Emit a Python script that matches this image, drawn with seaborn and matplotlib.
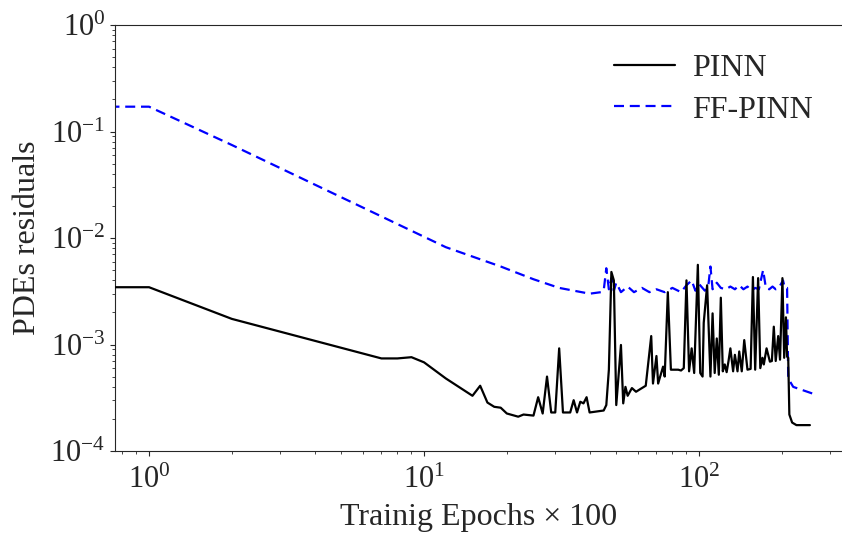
import numpy as np
import pandas as pd
import matplotlib
matplotlib.use('Agg')
import matplotlib.pyplot as plt
import seaborn as sns

# epochs (x100) and residuals
pinn_epochs = [0, 1, 2, 7, 8, 9, 10, 12, 15, 16, 17, 18, 19, 20, 22, 23, 25, 26, 27, 28,
               29, 30, 31, 32, 34, 35, 36, 37, 38, 39, 40, 45, 46, 47, 48, 49, 50, 52, 53, 54,
               55, 57, 59, 61, 64, 67, 68, 70, 71, 74, 75, 77, 79, 84, 86, 88, 90, 92, 94, 96, 99,
               101, 103, 104, 107, 110, 112, 114, 116, 118, 120, 122, 124, 126, 128, 130, 133, 135, 138, 140, 143,
               146, 150, 154, 157, 160, 164, 167, 170, 172, 176, 181, 184, 187, 190, 194, 197, 201,
               204, 207, 209, 211, 213, 218, 226, 253]
pinn_resid = [3.45e-3, 3.45e-3, 1.74e-3, 7.4e-4, 7.4e-4, 7.6e-4, 6.8e-4, 4.8e-4, 3.3e-4, 4.1e-4,
              2.85e-4, 2.6e-4, 2.55e-4, 2.25e-4, 2.1e-4, 2.2e-4, 2.15e-4, 3.2e-4, 2.25e-4, 5.0e-4,
              2.3e-4, 2.3e-4, 9.2e-4, 2.3e-4, 2.3e-4, 3.0e-4, 2.3e-4, 2.9e-4, 2.8e-4, 3.2e-4,
              2.3e-4, 2.4e-4, 2.7e-4, 5.8e-4, 4.8e-3, 4.0e-3, 2.7e-4, 9.9e-4, 2.8e-4, 4.0e-4,
              3.3e-4, 3.9e-4, 3.6e-4, 3.8e-4, 4.1e-4, 1.2e-3, 4.3e-4, 7.8e-4, 4.3e-4, 6.2e-4,
              5.0e-4, 3.1e-3, 5.8e-4, 5.8e-4, 5.7e-4, 6.0e-4, 4.0e-3, 5.6e-4, 9.2e-4, 5.4e-4, 5.6e-3,
              5.4e-4, 5.0e-4, 1.6e-3, 3.6e-3, 5.0e-4, 1.96e-3, 5.4e-4, 1.14e-3, 5.2e-4, 2.75e-3,
              5.6e-4, 6.5e-4, 5.5e-4, 7.0e-4, 9.2e-4, 5.6e-4, 8.0e-4, 5.6e-4, 8.6e-4, 5.6e-4,
              1.1e-3, 5.8e-4, 5.9e-4, 4.3e-3, 5.8e-4, 4.2e-3, 6.0e-4, 7.5e-4, 6.5e-4, 9.2e-4, 6.9e-4,
              7.0e-4, 1.47e-3, 7.0e-4, 1.2e-3, 7.2e-4, 4.2e-3, 7.5e-4, 1.8e-3, 7.7e-4, 7.5e-4,
              2.2e-4, 1.85e-4, 1.75e-4, 1.75e-4]

ff_epochs = [0, 1, 2, 12, 19, 25, 31, 40, 44, 45, 46, 47, 48, 49, 50, 52, 55, 58, 62, 66,
             70, 75, 80, 86, 90, 94, 97, 100, 105, 108, 110, 112, 116, 120, 125, 130, 135, 140,
             145, 150, 155, 160, 165, 171, 175, 180, 185, 190, 195, 202, 205, 209, 211, 220, 264]
ff_resid = [0.171, 0.171, 0.0747, 8.2e-3, 5.4e-3, 4.1e-3, 3.4e-3, 3.0e-3, 3.1e-3, 3.2e-3,
            5.2e-3, 3.3e-3, 4.2e-3, 3.2e-3, 3.8e-3, 3.1e-3, 3.5e-3, 3.1e-3, 3.4e-3, 3.1e-3,
            3.3e-3, 3.1e-3, 3.4e-3, 3.1e-3, 3.6e-3, 4.0e-3, 3.2e-3, 3.7e-3, 3.2e-3, 3.5e-3,
            5.4e-3, 3.3e-3, 3.8e-3, 3.4e-3, 3.3e-3, 3.5e-3, 3.3e-3, 3.6e-3,
            3.3e-3, 3.5e-3, 3.2e-3, 3.4e-3, 3.3e-3, 5.0e-3, 3.4e-3, 3.3e-3, 3.5e-3, 3.3e-3,
            3.4e-3, 4.0e-3, 3.4e-3, 3.4e-3, 4.8e-4, 4.0e-4, 3.4e-4]

x_min, x_max = 0.752, 331

pinn_df = pd.DataFrame({'epoch': pinn_epochs, 'residual': pinn_resid})
ff_df = pd.DataFrame({'epoch': ff_epochs, 'residual': ff_resid})

sns.set_style('ticks')
plt.rcParams['font.family'] = ['Liberation Serif', 'DejaVu Serif']
plt.rcParams['mathtext.fontset'] = 'stix'

fig = plt.figure(figsize=(8.42, 5.38), dpi=100)
ax = fig.add_axes([115 / 842, 87 / 538, 727 / 842, 426 / 538])
ax.set_xscale('log')
ax.set_yscale('log')

sns.lineplot(data=pinn_df, x='epoch', y='residual', ax=ax, color='black', lw=1.6,
             estimator=None, label='PINN', zorder=3)
sns.lineplot(data=ff_df, x='epoch', y='residual', ax=ax, color='blue', lw=1.6,
             estimator=None, linestyle=(0, (4.5, 2.6)), label='FF-PINN', zorder=2)

ax.set_xlim(x_min, x_max)
ax.set_ylim(1e-4, 1)
ax.set_xlabel('Trainig Epochs × 100', fontsize=23, labelpad=6)
ax.set_ylabel('PDEs residuals', fontsize=23, labelpad=6)
ax.tick_params(axis='both', which='major', labelsize=22)
ax.tick_params(axis='x', which='major', pad=7)
ax.spines['right'].set_visible(False)
ax.legend(loc='upper right', frameon=False, fontsize=23, handlelength=1.9,
          handletextpad=0.55, bbox_to_anchor=(1.0, 1.0), labelspacing=0.38)

fig.savefig('out.png', dpi=100)
